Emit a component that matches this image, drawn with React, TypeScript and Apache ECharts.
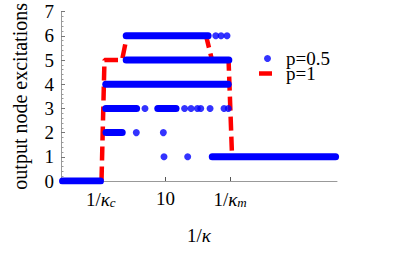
import React, { useEffect, useRef } from "react";
import * as echarts from "echarts";

// x values are log10(1/kappa)
const xTickValues = [0.5, 1, 1.5];
const xTickMain = ["1/", "10", "1/"];
const xTickKappa = ["κ", "", "κ"];
const xTickSub = ["c", "", "m"];

// p=0.5: dense runs of dots [xStart, xEnd, level]
const denseRuns: [number, number, number][] = [
  [0.205, 0.498, 0],
  [0.541, 0.666, 2],
  [0.539, 0.777, 3],
  [0.941, 1.082, 3],
  [0.539, 1.485, 4],
  [0.697, 1.49, 5],
  [0.697, 1.33, 6],
  [1.362, 2.315, 1],
];

// p=0.5: isolated dots [x, level]
const isolatedDots: [number, number][] = [
  [0.775, 2],
  [0.984, 2],
  [0.842, 3],
  [1.148, 3],
  [1.198, 3],
  [1.247, 3],
  [1.273, 3],
  [1.345, 3],
  [1.453, 3],
  [1.486, 3],
  [0.989, 1],
  [1.172, 1],
  [1.389, 6],
  [1.43, 6],
  [1.476, 6],
];

// p=1: step curve
const p1Line: [number, number][] = [
  [0.201, 0],
  [0.506, 0],
  [0.529, 5],
  [0.665, 5],
  [0.703, 6],
  [1.314, 6],
  [1.36, 5],
  [1.488, 5],
  [1.515, 1],
  [2.315, 1],
];

const BLUE = "#0000ff";
const RED = "#ff0000";
const FONT = "Times New Roman, Liberation Serif, serif";

export default function App() {
  const ref = useRef<HTMLDivElement>(null);
  useEffect(() => {
    if (!ref.current) return;
    const chart = echarts.init(ref.current, undefined, { renderer: "svg" });
    const runSeries = denseRuns.map((r, i) => ({
      name: "run" + i,
      type: "line",
      data: [
        [r[0], r[2]],
        [r[1], r[2]],
      ],
      symbol: "none",
      silent: true,
      z: 3,
      lineStyle: { color: BLUE, width: 7, cap: "round" },
    }));
    const richLabel = {
      n: { fontFamily: FONT, fontSize: 19, color: "#000" },
      i: { fontFamily: FONT, fontSize: 19, fontStyle: "italic", color: "#000" },
      s: {
        fontFamily: FONT,
        fontSize: 13,
        fontStyle: "italic",
        color: "#000",
        verticalAlign: "bottom",
        padding: [7, 0, 0, 0],
      },
    };
    const legendText = { fontFamily: FONT, fontSize: 19, lineHeight: 13, color: "#000" };
    chart.setOption({
      animation: false,
      textStyle: { fontFamily: FONT },
      grid: { left: 61, right: 70, top: 11, bottom: 73 },
      legend: [
        {
          data: [{ name: "p=0.5", icon: "circle" }],
          left: 264,
          top: 49,
          padding: 0,
          itemWidth: 7,
          itemHeight: 7,
          textStyle: { ...legendText, padding: [0, 0, 0, 10] },
        },
        {
          data: [{ name: "p=1", icon: "rect", itemStyle: { color: RED } }],
          left: 259,
          top: 64,
          padding: 0,
          itemWidth: 13,
          itemHeight: 4.5,
          textStyle: { ...legendText, padding: [0, 0, 0, 9] },
        },
      ],
      xAxis: {
        type: "value",
        min: 0.193,
        max: 2.326,
        name: "{n|1/}{i|κ}",
        nameLocation: "middle",
        nameGap: 45,
        nameTextStyle: { rich: richLabel },
        axisLine: { lineStyle: { color: "#999", width: 1 } },
        axisTick: {
          inside: true,
          length: 4,
          customValues: xTickValues,
          lineStyle: { color: "#555" },
        },
        axisLabel: {
          customValues: xTickValues,
          margin: 8,
          formatter: (v: number) => {
            let idx = 0;
            let best = Infinity;
            xTickValues.forEach((t, k) => {
              if (Math.abs(t - v) < best) {
                best = Math.abs(t - v);
                idx = k;
              }
            });
            let s = "{n|" + xTickMain[idx] + "}";
            if (xTickKappa[idx]) s += "{i|" + xTickKappa[idx] + "}";
            if (xTickSub[idx]) s += "{s|" + xTickSub[idx] + "}";
            return s;
          },
          rich: richLabel,
        },
        splitLine: { show: false },
      },
      yAxis: {
        type: "value",
        min: 0,
        max: 7,
        interval: 1,
        name: "output node excitations",
        nameLocation: "middle",
        nameGap: 31,
        nameTextStyle: { fontFamily: FONT, fontSize: 20, color: "#000" },
        axisLine: { show: true, lineStyle: { color: "#999", width: 1 } },
        axisTick: { inside: true, length: 4, lineStyle: { color: "#777" } },
        minorTick: { show: true, splitNumber: 5, length: 2.5, lineStyle: { color: "#999" } },
        axisLabel: { fontFamily: FONT, fontSize: 19, color: "#000", margin: 7 },
        splitLine: { show: false },
      },
      series: [
        {
          name: "p=1",
          type: "line",
          data: p1Line,
          symbol: "none",
          z: 2,
          itemStyle: { color: RED },
          lineStyle: { color: RED, width: 4.5, type: [14, 6] },
        },
        ...runSeries,
        {
          name: "p=0.5",
          type: "scatter",
          data: isolatedDots,
          symbol: "circle",
          symbolSize: 7,
          z: 4,
          itemStyle: { color: BLUE },
        },
      ],
    });
    return () => chart.dispose();
  }, []);
  return <div ref={ref} style={{ width: 407, height: 254, position: "absolute", left: 0, top: 0 }} />;
}
